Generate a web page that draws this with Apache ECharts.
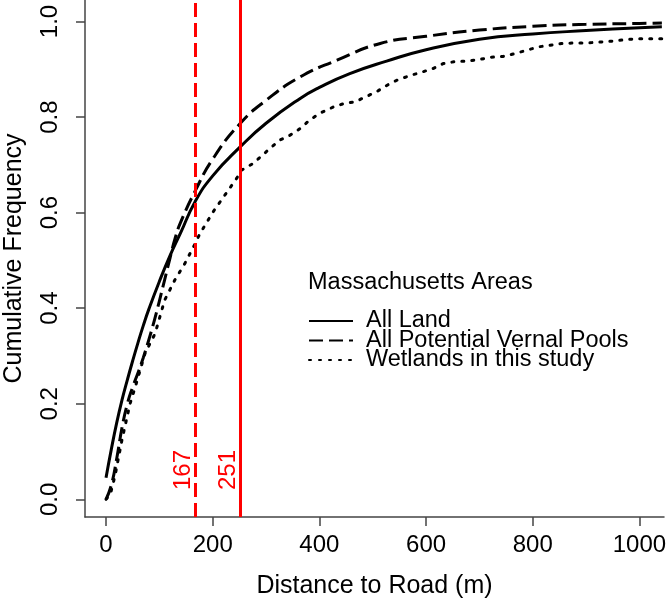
<!DOCTYPE html>
<html>
<head>
<meta charset="utf-8">
<script src="https://cdn.jsdelivr.net/npm/echarts@6/dist/echarts.min.js"></script>
<style>
html, body { margin: 0; padding: 0; background: #fff; }
#chart { width: 670px; height: 602px; }
</style>
</head>
<body>
<div id="chart"></div>
<script>
// All Land
var landX = [0, 10, 20, 30, 40, 50, 60, 70, 80, 100, 120, 140, 167, 200, 251, 300, 364, 400, 457, 526, 600, 700, 800, 900, 1000, 1042];
var landY = [0.045, 0.105, 0.16, 0.208, 0.25, 0.29, 0.328, 0.364, 0.397, 0.456, 0.51, 0.558, 0.623, 0.677, 0.737, 0.787, 0.839, 0.862, 0.891, 0.917, 0.941, 0.963, 0.974, 0.981, 0.987, 0.989];
// All Potential Vernal Pools
var poolX = [0, 10, 20, 30, 40, 50, 60, 70, 80, 90, 100, 110, 120, 130, 140, 167, 200, 251, 300, 364, 433, 514, 600, 700, 800, 900, 1000, 1042];
var poolY = [0.0, 0.03, 0.085, 0.15, 0.2, 0.235, 0.265, 0.297, 0.333, 0.372, 0.415, 0.46, 0.505, 0.548, 0.58, 0.645, 0.712, 0.786, 0.835, 0.884, 0.919, 0.954, 0.969, 0.982, 0.99, 0.994, 0.996, 0.997];
// Wetlands in this study
var wetX = [0, 8, 17, 30, 45, 54, 73, 92, 110, 129, 148, 167, 176, 201, 223, 245, 254, 276, 307, 326, 345, 364, 382, 401, 426, 445, 467, 486, 507, 529, 545, 570, 592, 614, 632, 654, 676, 698, 720, 745, 767, 789, 811, 832, 854, 876, 901, 926, 951, 973, 998, 1020, 1042];
var wetY = [0, 0.01, 0.05, 0.125, 0.2, 0.232, 0.305, 0.347, 0.417, 0.459, 0.494, 0.535, 0.556, 0.602, 0.637, 0.672, 0.689, 0.703, 0.734, 0.752, 0.762, 0.776, 0.794, 0.808, 0.821, 0.828, 0.832, 0.842, 0.853, 0.868, 0.877, 0.887, 0.894, 0.902, 0.912, 0.916, 0.917, 0.92, 0.925, 0.927, 0.933, 0.94, 0.947, 0.95, 0.954, 0.955, 0.955, 0.957, 0.959, 0.962, 0.964, 0.964, 0.964];

var xTicks = [0, 200, 400, 600, 800, 1000];
var yTicks = [0, 0.2, 0.4, 0.6, 0.8, 1.0];
var cutoffs = [167, 251];

var X_MIN = -39.4, X_MAX = 1046;
var Y_MIN = -0.037, Y_MAX = 1.045;
var FONT = "'Liberation Sans', Arial, sans-serif";

function pairs(xs, ys) {
  var out = [];
  for (var i = 0; i < xs.length; i++) {
    out.push([xs[i], ys[i]]);
  }
  return out;
}

// vertical red cut-off line with its value written alongside
function cutLine(v, dashed) {
  return [
    {
      coord: [v, Y_MIN],
      lineStyle: { color: "#ff0000", width: 3, type: dashed ? [14, 6] : "solid" },
      label: {
        show: true,
        formatter: String(v),
        position: "insideStartTop",
        color: "#ff0000",
        fontSize: 24,
        fontFamily: FONT,
        distance: [27, 0]
      }
    },
    { coord: [v, Y_MAX] }
  ];
}

var axisGray = "#444";

var chart = echarts.init(document.getElementById("chart"));
var option = {
  animation: false,
  backgroundColor: "#fff",
  title: {
    text: "Massachusetts Areas",
    left: 303,
    top: 266,
    textStyle: { fontSize: 23.5, fontWeight: "normal", color: "#000", fontFamily: FONT }
  },
  legend: {
    orient: "vertical",
    left: 308,
    top: 309,
    padding: 0,
    itemWidth: 44,
    itemHeight: 14,
    itemGap: -4.5,
    itemStyle: { opacity: 0 },
    data: ["All Land", "All Potential Vernal Pools", "Wetlands in this study"],
    textStyle: { fontSize: 23.5, color: "#000", fontFamily: FONT, padding: [0, 0, 0, 8] }
  },
  grid: { left: 85, right: 6, top: 0, bottom: 85, outerBoundsMode: "none" },
  xAxis: {
    type: "value",
    min: X_MIN,
    max: X_MAX,
    name: "Distance to Road (m)",
    nameLocation: "middle",
    nameGap: 57,
    nameTextStyle: { fontSize: 25, color: "#000", fontFamily: FONT },
    axisLine: { show: true, onZero: false, lineStyle: { color: axisGray, width: 1.5 } },
    axisTick: { show: true, length: 9, customValues: xTicks, lineStyle: { color: axisGray, width: 1.5 } },
    axisLabel: {
      customValues: xTicks,
      margin: 16,
      fontSize: 24,
      color: "#000",
      fontFamily: FONT,
      formatter: function (v) { return String(v); }
    },
    splitLine: { show: false }
  },
  yAxis: {
    type: "value",
    min: Y_MIN,
    max: Y_MAX,
    name: "Cumulative Frequency",
    nameLocation: "middle",
    nameGap: 58,
    nameTextStyle: { fontSize: 25, color: "#000", fontFamily: FONT },
    axisLine: { show: true, onZero: false, lineStyle: { color: axisGray, width: 1.5 } },
    axisTick: { show: true, length: 9, customValues: yTicks, lineStyle: { color: axisGray, width: 1.5 } },
    axisLabel: {
      customValues: yTicks,
      rotate: 90,
      margin: 23,
      fontSize: 24,
      color: "#000",
      fontFamily: FONT,
      formatter: function (v) { return v.toFixed(1); }
    },
    splitLine: { show: false }
  },
  series: [
    {
      name: "All Land",
      type: "line",
      data: pairs(landX, landY),
      showSymbol: false,
      symbol: "none",
      smooth: 0.5,
      lineStyle: { color: "#000", width: 3, type: "solid" },
      itemStyle: { color: "#000" },
      markLine: {
        silent: true,
        symbol: "none",
        data: [cutLine(cutoffs[0], true), cutLine(cutoffs[1], false)]
      }
    },
    {
      name: "All Potential Vernal Pools",
      type: "line",
      data: pairs(poolX, poolY),
      showSymbol: false,
      symbol: "none",
      smooth: 0.5,
      lineStyle: { color: "#000", width: 3, type: [14, 6] },
      itemStyle: { color: "#000" }
    },
    {
      name: "Wetlands in this study",
      type: "line",
      data: pairs(wetX, wetY),
      showSymbol: false,
      symbol: "none",
      lineStyle: { color: "#000", width: 3, type: [2, 8], cap: "round" },
      itemStyle: { color: "#000" }
    }
  ]
};
chart.setOption(option);
</script>
</body>
</html>
